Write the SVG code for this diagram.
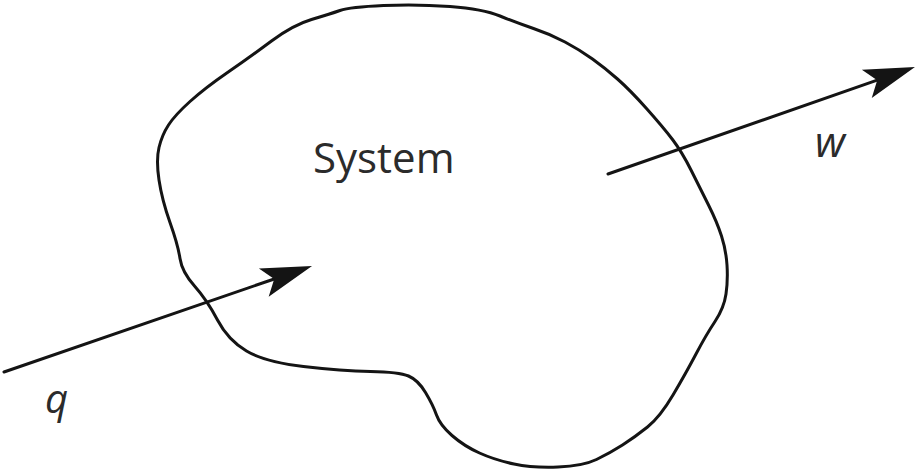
<svg xmlns="http://www.w3.org/2000/svg" width="916" height="474" viewBox="0 0 916 474">
<style>
.outline{fill:none;stroke:#141414;stroke-width:3;stroke-linejoin:round}
.conn{stroke:#141414;stroke-width:3;fill:none;stroke-linecap:round}
.lbl{font-family:"Open Sans","Liberation Sans",sans-serif;fill:#2b2b2b}
.var{font-style:italic}
</style>
<defs>
<marker id="head" markerUnits="userSpaceOnUse" orient="auto" viewBox="-52 -17 54 34" refX="-40" refY="0" markerWidth="54" markerHeight="34">
<path d="M0,0 L-51,-15 L-40,0 L-51,15 Z" fill="#141414"/>
</marker>
</defs>
<rect width="916" height="474" fill="#fff"/>
<g id="system">
<path class="outline" d="M340,10.5 Q350,7 383.5,5.5 Q417,4 450,6.5 Q483,9 500,16 Q517,23 533.5,28.5 Q550,34 565,42 Q580,50 592.5,59 Q605,68 617.5,79 Q630,90 646.5,108.5 Q663,127 672.5,139.5 Q682,152 691,170 Q700,188 708.5,205 Q717,222 721.5,236 Q726,250 727,265 Q728,280 726,294 Q724,308 715,321.5 Q706,335 696,354 Q686,373 673,395 Q660,417 647.5,427 Q635,437 622.5,445 Q610,453 596.5,459.5 Q583,466 558,467 Q533,468 514,464 Q495,460 479.5,453 Q464,446 452,435.5 Q440,425 436.5,415 Q433,405 425.5,392.5 Q418,380 408.5,376 Q399,372 370.5,371.5 Q342,371 303.5,366.5 Q265,362 246.5,351 Q228,340 217.5,320 Q207,300 194.5,286 Q182,272 180,258.5 Q178,245 170,222.5 Q162,200 159,180 Q156,160 159,147.5 Q162,135 168.5,125 Q175,115 190,101.5 Q205,88 227.5,72.5 Q250,57 271.5,41 Q293,25 311.5,19.5 Q330,14 340,10.5 Z"/>
<text class="lbl" x="313" y="173" font-size="42">System</text>
</g>
<g id="connectors">
<line class="conn" x1="4" y1="372" x2="274.2" y2="279" marker-end="url(#head)"/>
<line class="conn" x1="608" y1="174" x2="877.2" y2="80.2" marker-end="url(#head)"/>
</g>
<g id="label-q">
<text class="lbl var" x="45" y="413" font-size="40">q</text>
</g>
<g id="label-w">
<text class="lbl var" x="815" y="157" font-size="42">w</text>
</g>
</svg>
